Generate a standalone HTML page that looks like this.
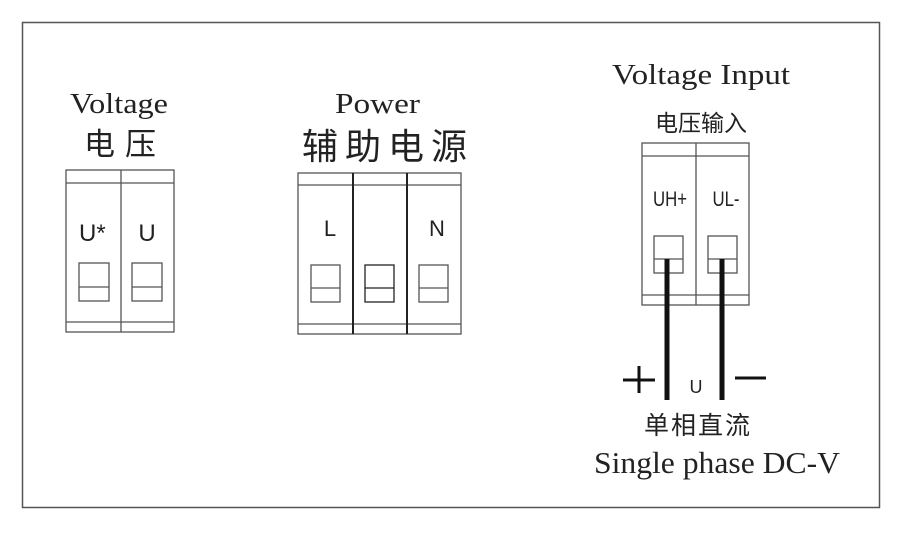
<!DOCTYPE html>
<html><head><meta charset="utf-8"><style>
body{margin:0;background:#fff}
svg text{fill:#222}
.s{font-family:"Liberation Serif",serif}
.c{font-family:"Liberation Sans","Noto Sans CJK SC",sans-serif}
</style></head><body>
<svg width="906" height="529" xmlns="http://www.w3.org/2000/svg">
<rect x="22.5" y="22.5" width="857" height="485" fill="none" stroke="#555" stroke-width="1.5"/>
<g fill="none" stroke="#555" stroke-width="1.3">
<rect x="66" y="170" width="108" height="162"/>
<line x1="66" y1="183" x2="174" y2="183"/><line x1="66" y1="322" x2="174" y2="322"/>
<line x1="121" y1="170" x2="121" y2="332"/>
<rect x="79" y="263" width="30" height="38"/><line x1="79" y1="287" x2="109" y2="287"/>
<rect x="132" y="263" width="30" height="38"/><line x1="132" y1="287" x2="162" y2="287"/>
<rect x="298" y="173" width="163" height="161"/>
<line x1="298" y1="185" x2="461" y2="185"/><line x1="298" y1="324" x2="461" y2="324"/>
<line x1="353" y1="173" x2="353" y2="334" stroke="#222" stroke-width="2"/>
<line x1="407" y1="173" x2="407" y2="334" stroke="#222" stroke-width="2"/>
<rect x="311" y="265" width="29" height="37"/><line x1="311" y1="288" x2="340" y2="288"/>
<rect x="365" y="265" width="29" height="37" stroke="#222"/><line x1="365" y1="288" x2="394" y2="288" stroke="#222"/>
<rect x="419" y="265" width="29" height="37"/><line x1="419" y1="288" x2="448" y2="288"/>
<rect x="642" y="143" width="107" height="162"/>
<line x1="642" y1="156" x2="749" y2="156"/><line x1="642" y1="295" x2="749" y2="295"/>
<line x1="696" y1="143" x2="696" y2="305"/>
<rect x="654" y="236" width="29" height="37"/><line x1="654" y1="259" x2="683" y2="259"/>
<rect x="708" y="236" width="29" height="37"/><line x1="708" y1="259" x2="737" y2="259"/>
</g>
<g stroke="#111" stroke-width="5">
<line x1="667" y1="259" x2="667" y2="400"/>
<line x1="722" y1="259" x2="722" y2="400"/>
<line x1="623" y1="380" x2="655" y2="380" stroke-width="3"/>
<line x1="639" y1="366" x2="639" y2="393" stroke-width="3"/>
<line x1="735" y1="378" x2="766" y2="378" stroke-width="3"/>
</g>
<text class="s" x="70" y="113" font-size="29" textLength="98" lengthAdjust="spacingAndGlyphs">Voltage</text>
<text class="c" x="84" y="155" font-size="31" textLength="72" lengthAdjust="spacing">电压</text>
<text class="s" x="335" y="113" font-size="29" textLength="85" lengthAdjust="spacingAndGlyphs">Power</text>
<text class="c" x="302" y="159" font-size="36" textLength="165" lengthAdjust="spacing">辅助电源</text>
<text class="s" x="612" y="84" font-size="29" textLength="178" lengthAdjust="spacingAndGlyphs">Voltage Input</text>
<text class="c" x="655" y="131" font-size="23" textLength="92" lengthAdjust="spacing">电压输入</text>
<text class="c" x="79" y="241" font-size="24">U*</text>
<text class="c" x="147" y="241" font-size="24" text-anchor="middle">U</text>
<text class="c" x="330" y="236" font-size="22" text-anchor="middle">L</text>
<text class="c" x="437" y="236" font-size="22" text-anchor="middle">N</text>
<text class="c" x="670" y="206" font-size="21" text-anchor="middle" transform="translate(670 0) scale(0.8 1) translate(-670 0)">UH+</text>
<text class="c" x="726" y="206" font-size="21" text-anchor="middle" transform="translate(726 0) scale(0.8 1) translate(-726 0)">UL-</text>
<text class="c" x="696" y="393" font-size="18" text-anchor="middle">U</text>
<text class="c" x="644" y="434" font-size="25" textLength="106" lengthAdjust="spacing">单相直流</text>
<text class="s" x="594" y="473" font-size="31" textLength="246" lengthAdjust="spacingAndGlyphs">Single phase DC-V</text>
</svg>
</body></html>
